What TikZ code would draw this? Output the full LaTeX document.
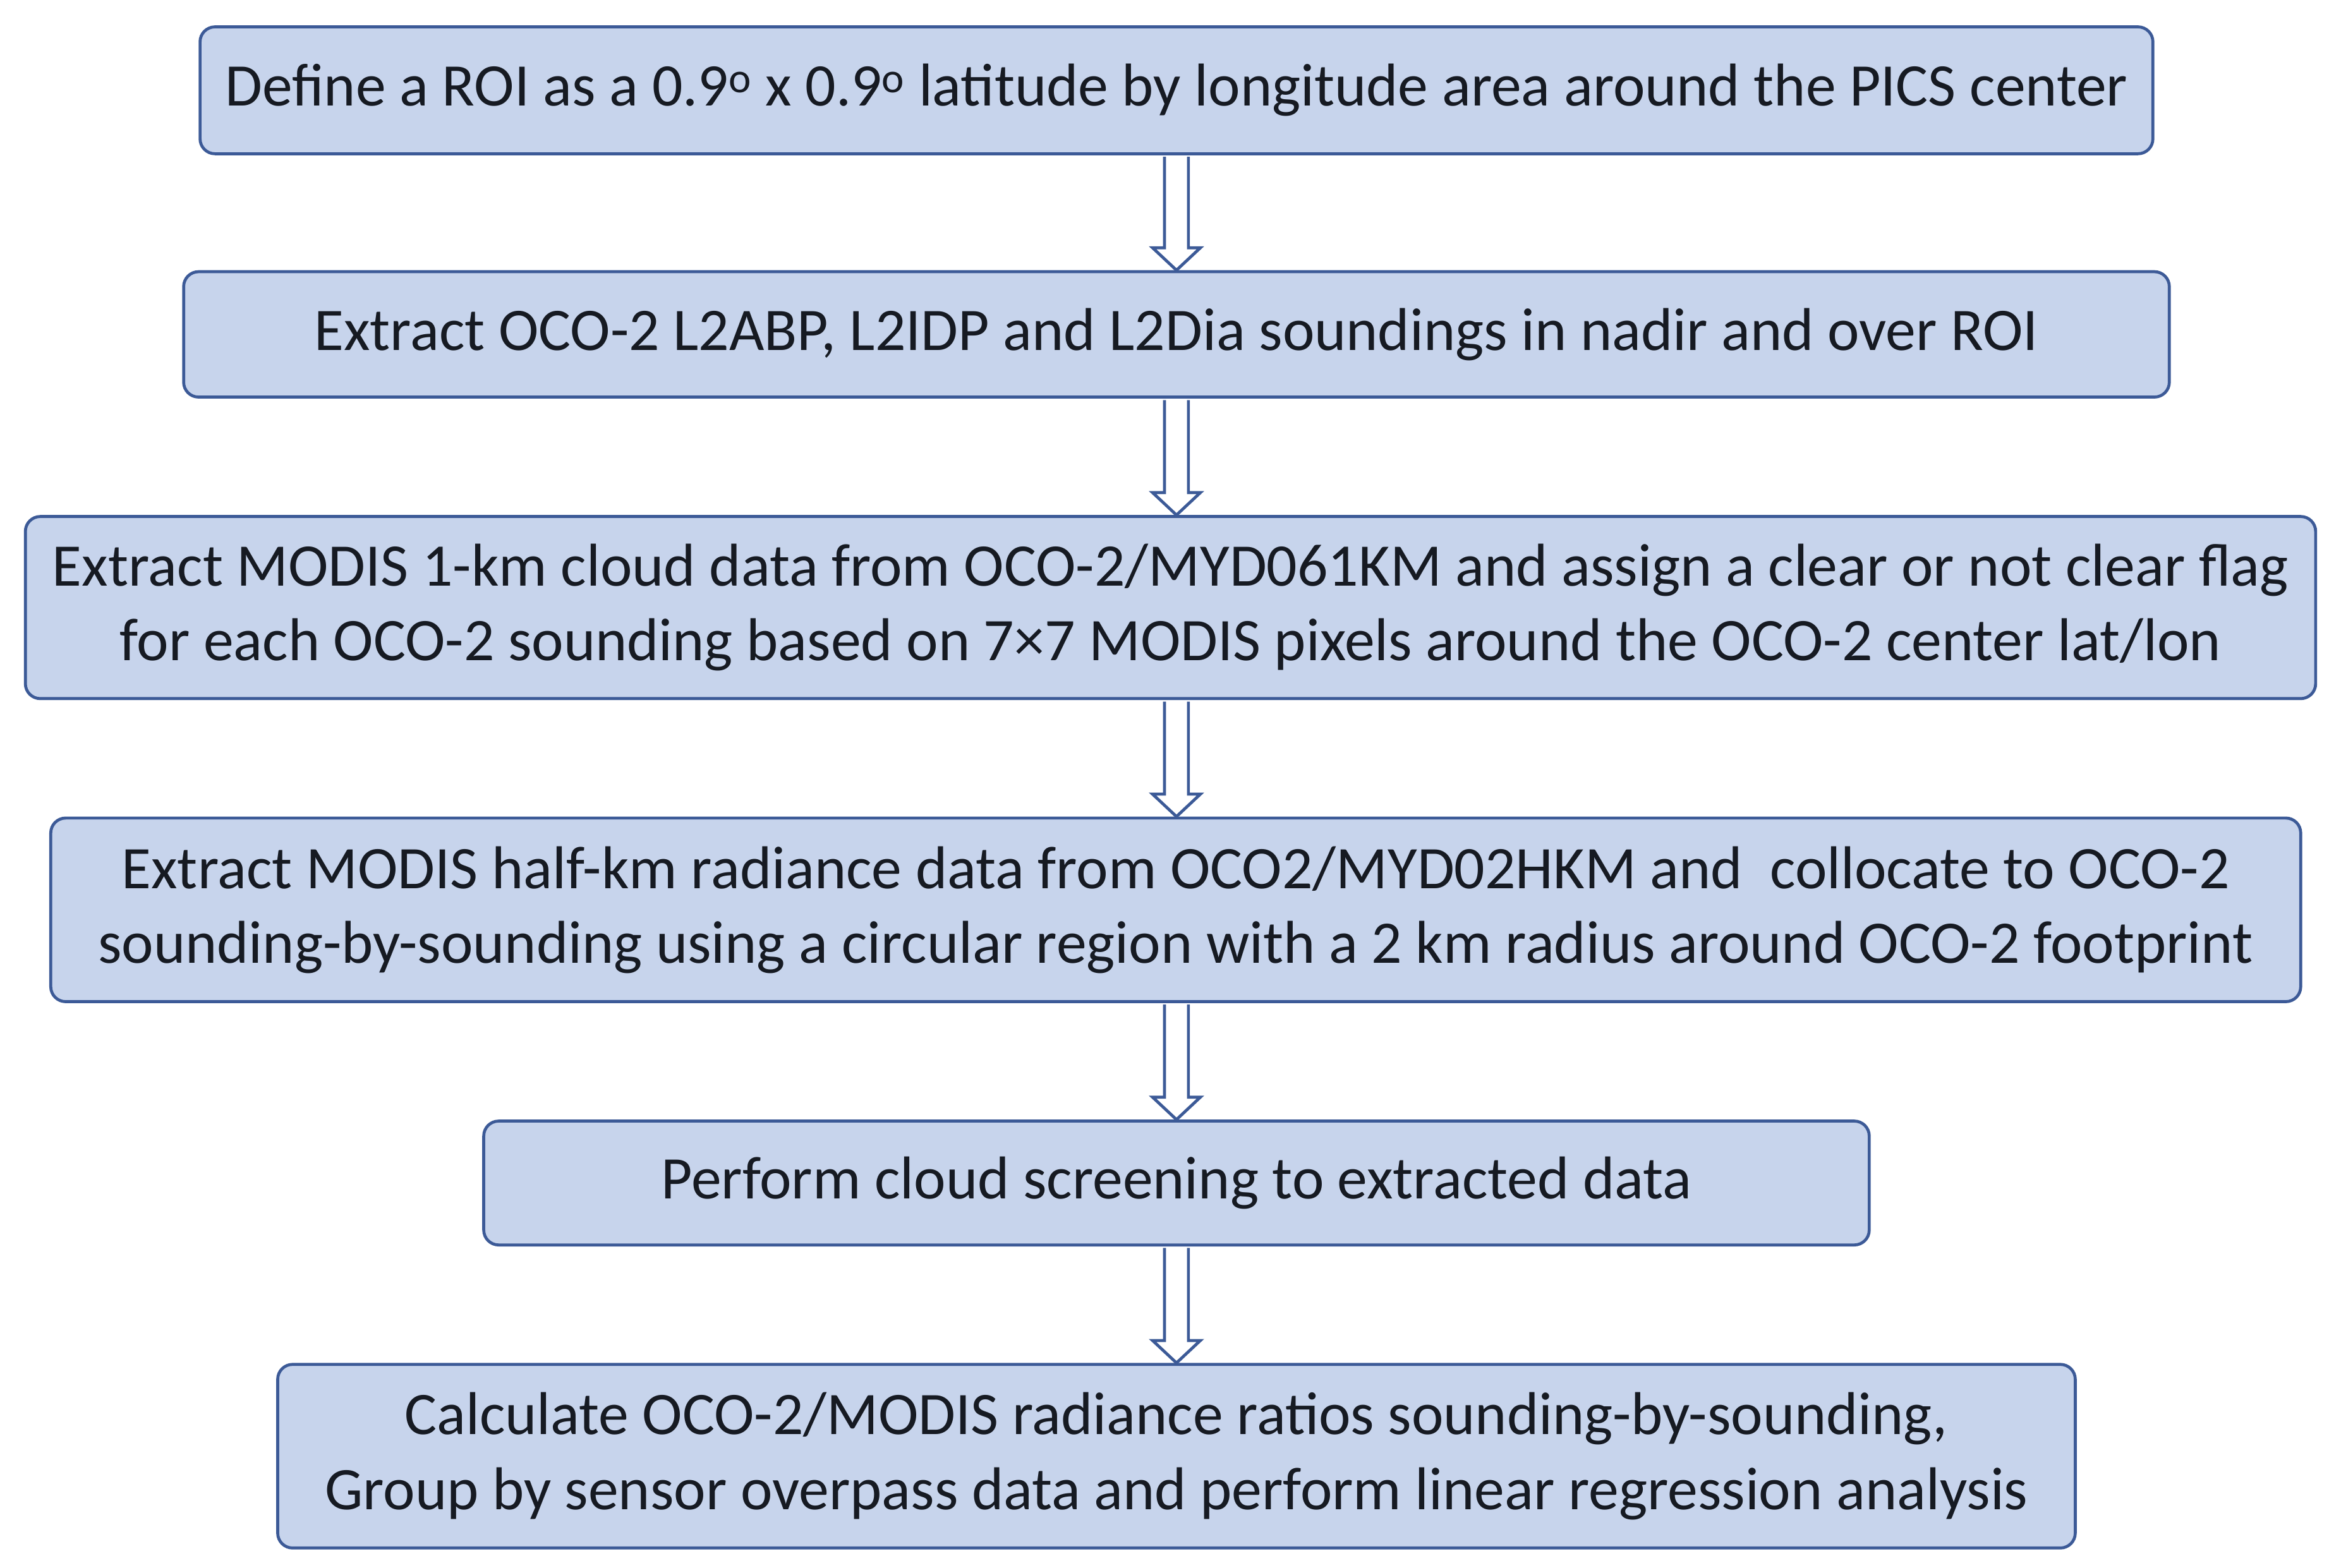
\documentclass[tikz,border=0pt]{standalone}
\usepackage{fontspec}
\setmainfont{Carlito}
\usetikzlibrary{calc}
\definecolor{boxfill}{HTML}{C7D4EC}
\definecolor{boxline}{HTML}{3C5A97}
\definecolor{txt}{HTML}{161A22}
\begin{document}
\begin{tikzpicture}[x=1pt,y=1pt,
  stepbox/.style={draw=boxline,line width=2pt,fill=boxfill,rounded corners=10pt,align=center,text=txt,font=\fontsize{40.5}{50}\selectfont,inner sep=0pt}]
\useasboundingbox (0,0) rectangle (1568,-1050);
\newcommand{\bx}[6]{\node[stepbox,minimum width=#3-#2,minimum height=#5-#4] (#1) at ({(#2+#3)/2},{-(#4+#5)/2}) {#6};}
\bx{b1}{134}{1442}{18}{103}{Define a ROI as a 0.9\textsuperscript{o} x 0.9\textsuperscript{o} latitude by longitude area around the PICS center}
\bx{b2}{123}{1453}{182}{266}{Extract OCO-2 L2ABP, L2IDP and L2Dia soundings in nadir and over ROI}
\bx{b3}{17}{1551}{346}{468}{Extract MODIS 1-km cloud data from OCO-2/MYD061KM and assign a clear or not clear flag\\for each OCO-2 sounding based on 7×7 MODIS pixels around the OCO-2 center lat/lon}
\bx{b4}{34}{1541}{548}{671}{Extract MODIS half-km radiance data from OCO2/MYD02HKM and\ \ collocate to OCO-2\\sounding-by-sounding using a circular region with a 2 km radius around OCO-2 footprint}
\bx{b5}{324}{1252}{751}{834}{Perform cloud screening to extracted data}
\bx{b6}{186}{1390}{914}{1037}{Calculate OCO-2/MODIS radiance ratios sounding-by-sounding,\\Group by sensor overpass data and perform linear regression analysis}
\coordinate (ax) at (788,0);
\newcommand{\arr}[2]{\draw[boxline,line width=2pt,fill=white,line join=miter]
  ($(ax |- #1.south)+(-8,-1)$) -- ($(ax |- #2.north)+(-8,15)$) -- ($(ax |- #2.north)+(-16,15)$) -- (ax |- #2.north) -- ($(ax |- #2.north)+(16,15)$) -- ($(ax |- #2.north)+(8,15)$) -- ($(ax |- #1.south)+(8,-1)$);}
\arr{b1}{b2}\arr{b2}{b3}\arr{b3}{b4}\arr{b4}{b5}\arr{b5}{b6}
\end{tikzpicture}
\end{document}
